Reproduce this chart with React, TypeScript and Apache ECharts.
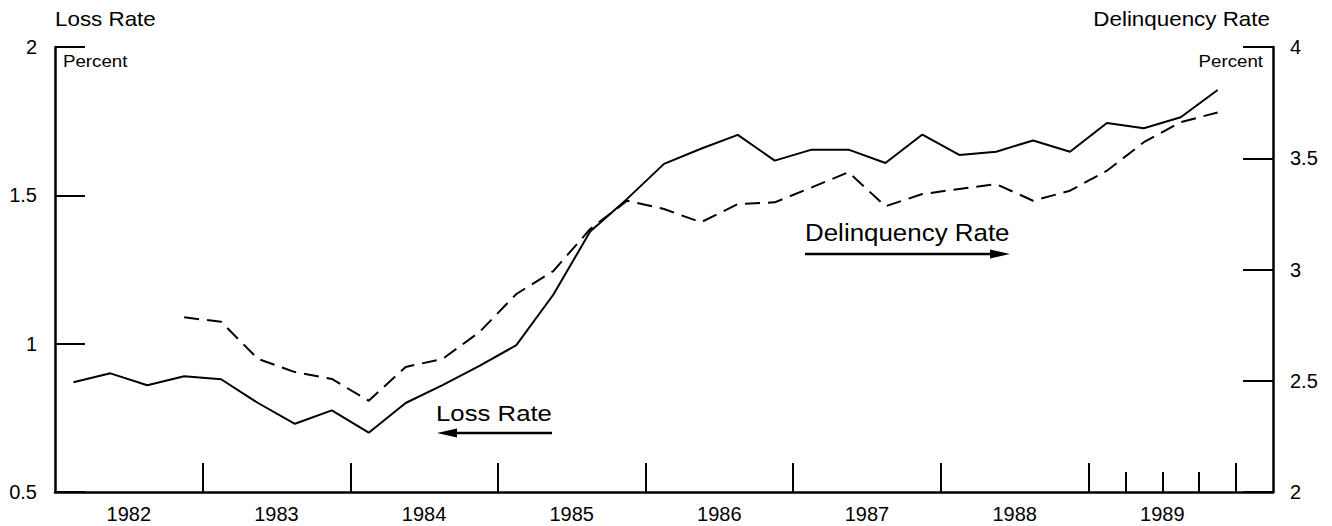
import React, { useEffect, useRef } from "react";
import * as echarts from "echarts";

// Quarterly data, 1982Q1 .. 1989Q4
const startYear = 1982;
const lossRate = [
  0.87, 0.9, 0.86, 0.89, 0.88, 0.8, 0.73, 0.775, 0.7, 0.8, 0.86, 0.925,
  0.995, 1.165, 1.378, 1.488, 1.606, 1.657, 1.704, 1.617, 1.654, 1.654, 1.609, 1.705,
  1.636, 1.647, 1.685, 1.647, 1.744, 1.726, 1.763, 1.855,
];
// Delinquency rate begins 1982Q4
const delinquencyStart = 3;
const delinquencyRate = [
  2.785, 2.765, 2.598, 2.539, 2.508, 2.41, 2.562, 2.598, 2.719,
  2.89, 2.993, 3.182, 3.309, 3.272, 3.212, 3.294, 3.302, 3.369, 3.437, 3.284, 3.339,
  3.362, 3.384, 3.309, 3.354, 3.444, 3.572, 3.662, 3.706,
];
const yearTicks = [4, 8, 12, 16, 20, 24, 28, 32];
const quarterTicks1989 = [29, 30, 31];
const yearLabelPos = [2, 6, 10, 14, 18, 22, 26, 30];

const FONT = "'Liberation Sans', Arial, sans-serif";

export default function App() {
  const ref = useRef<HTMLDivElement>(null);
  useEffect(() => {
    const chart = echarts.init(ref.current!, undefined, { renderer: "svg" });
    const lossData = lossRate.map((v, i) => [i + 0.5, v]);
    const delData = delinquencyRate.map((v, i) => [i + delinquencyStart + 0.5, v]);
    const axisText = { color: "#000", fontFamily: FONT, fontSize: 20 };
    chart.setOption({
      animation: false,
      backgroundColor: "#fff",
      grid: { left: 55, right: 59, top: 47, bottom: 34, containLabel: false },
      xAxis: [
        {
          type: "value",
          min: 0,
          max: 33,
          axisLine: { show: true, onZero: false, lineStyle: { color: "#000", width: 2.5 } },
          axisTick: {
            show: true,
            inside: true,
            length: 29,
            customValues: yearTicks,
            lineStyle: { color: "#000", width: 2 },
          },
          axisLabel: {
            ...axisText,
            margin: 12,
            customValues: yearLabelPos,
            formatter: (v: number) => String(startYear + Math.round((v - 2) / 4)),
          },
          splitLine: { show: false },
        },
        {
          type: "value",
          min: 0,
          max: 33,
          position: "bottom",
          axisLine: { show: false, onZero: false },
          axisTick: {
            show: true,
            inside: true,
            length: 20,
            customValues: quarterTicks1989,
            lineStyle: { color: "#000", width: 2 },
          },
          axisLabel: { show: false },
          splitLine: { show: false },
        },
      ],
      yAxis: [
        {
          type: "value",
          position: "left",
          min: 0.5,
          max: 2,
          interval: 0.5,
          axisLine: { show: true, onZero: false, lineStyle: { color: "#000", width: 2.5 } },
          axisTick: { show: true, inside: true, length: 30, lineStyle: { color: "#000", width: 2 } },
          axisLabel: { ...axisText, margin: 18, formatter: (v: number) => String(v) },
          splitLine: { show: false },
        },
        {
          type: "value",
          position: "right",
          min: 2,
          max: 4,
          interval: 0.5,
          axisLine: { show: true, onZero: false, lineStyle: { color: "#000", width: 2.5 } },
          axisTick: { show: true, inside: true, length: 30, lineStyle: { color: "#000", width: 2 } },
          axisLabel: { ...axisText, margin: 17, formatter: (v: number) => String(v) },
          splitLine: { show: false },
        },
      ],
      series: [
        {
          name: "Loss Rate",
          type: "line",
          xAxisIndex: 0,
          yAxisIndex: 0,
          data: lossData,
          symbol: "none",
          lineStyle: { color: "#000", width: 2 },
        },
        {
          name: "Delinquency Rate",
          type: "line",
          xAxisIndex: 0,
          yAxisIndex: 1,
          data: delData,
          symbol: "none",
          lineStyle: { color: "#000", width: 2, type: [15, 8] },
        },
      ],
      graphic: [
        {
          type: "text",
          x: 55,
          y: 19,
          scaleX: 1.12,
          style: { text: "Loss Rate", fill: "#000", font: `20px ${FONT}`, textAlign: "left", textVerticalAlign: "middle" },
        },
        {
          type: "text",
          x: 1270,
          y: 19,
          scaleX: 1.12,
          style: { text: "Delinquency Rate", fill: "#000", font: `20px ${FONT}`, textAlign: "right", textVerticalAlign: "middle" },
        },
        {
          type: "text",
          x: 63,
          y: 61,
          scaleX: 1.1,
          style: { text: "Percent", fill: "#000", font: `17px ${FONT}`, textAlign: "left", textVerticalAlign: "middle" },
        },
        {
          type: "text",
          x: 1263,
          y: 61,
          scaleX: 1.1,
          style: { text: "Percent", fill: "#000", font: `17px ${FONT}`, textAlign: "right", textVerticalAlign: "middle" },
        },
        {
          type: "text",
          x: 805,
          y: 232,
          scaleX: 1.08,
          style: { text: "Delinquency Rate", fill: "#000", font: `24px ${FONT}`, textAlign: "left", textVerticalAlign: "middle" },
        },
        {
          type: "line",
          shape: { x1: 805, y1: 254, x2: 995, y2: 254 },
          style: { stroke: "#000", lineWidth: 2.5 },
        },
        {
          type: "polygon",
          shape: { points: [[990, 249.5], [1010, 254], [990, 258.5]] },
          style: { fill: "#000" },
        },
        {
          type: "text",
          x: 436,
          y: 413,
          scaleX: 1.12,
          style: { text: "Loss Rate", fill: "#000", font: `23px ${FONT}`, textAlign: "left", textVerticalAlign: "middle" },
        },
        {
          type: "line",
          shape: { x1: 452, y1: 433, x2: 552, y2: 433 },
          style: { stroke: "#000", lineWidth: 2.5 },
        },
        {
          type: "polygon",
          shape: { points: [[437, 433], [457, 428.5], [457, 437.5]] },
          style: { fill: "#000" },
        },
      ],
    });
    return () => chart.dispose();
  }, []);
  return (
    <div
      ref={ref}
      style={{ position: "fixed", left: 0, top: 0, width: 1332, height: 526, background: "#fff" }}
    />
  );
}
